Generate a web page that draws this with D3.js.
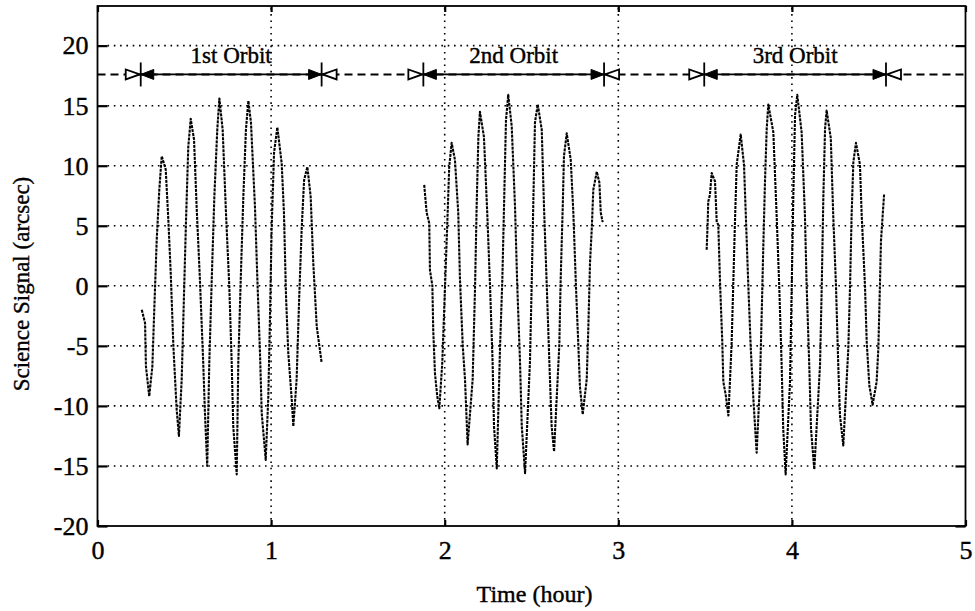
<!DOCTYPE html>
<html>
<head>
<meta charset="utf-8">
<script src="https://cdn.jsdelivr.net/npm/d3@7"></script>
<style>
  body { margin: 0; background: #fff; }
  svg { display: block; }
  text { font-family: "Liberation Serif", "Times New Roman", serif; fill: #000; stroke: #000; stroke-width: 0.4px; }
</style>
</head>
<body>
<svg class="chart"></svg>
<script>
// axis ticks
const xTicks = [0, 1, 2, 3, 4, 5];
const yTicks = [-20, -15, -10, -5, 0, 5, 10, 15, 20];

// orbit brackets (hours) and the level they are drawn at (arcsec)
const orbitNames = ["1st Orbit", "2nd Orbit", "3rd Orbit"];
const orbitStart = [0.249, 1.877, 3.495];
const orbitEnd = [1.291, 2.918, 4.542];
const orbitMarkY = 17.6;

// science signal: [time (hour), signal (arcsec)]
const orbit1 = [
  [0.255, -2.0], [0.274, -3.1], [0.279, -6.7], [0.298, -9.2], [0.316, -6.7],
  [0.327, -2.0], [0.341, 3.8], [0.356, 8.0], [0.370, 10.8], [0.393, 9.7],
  [0.408, 5.5], [0.422, 1.0], [0.437, -5.0], [0.456, -10.3], [0.469, -12.5],
  [0.485, -7.8], [0.498, -0.9], [0.510, 5.5], [0.523, 11.6], [0.537, 13.9],
  [0.556, 12.2], [0.571, 6.6], [0.590, 0.5], [0.609, -6.4], [0.619, -10.6],
  [0.632, -15.0], [0.644, -6.4], [0.658, 0.5], [0.673, 7.4], [0.690, 13.0],
  [0.702, 15.6], [0.721, 13.0], [0.740, 6.1], [0.759, 0.0], [0.773, -6.4],
  [0.782, -11.7], [0.802, -15.7], [0.811, -6.4], [0.825, 0.5], [0.840, 7.4],
  [0.855, 13.0], [0.869, 15.4], [0.884, 13.6], [0.907, 6.6], [0.921, 0.5],
  [0.936, -5.6], [0.946, -10.6], [0.969, -14.5], [0.984, -9.2], [0.994, -2.3],
  [1.003, 4.7], [1.017, 11.1], [1.036, 13.2], [1.061, 10.2], [1.074, 6.1],
  [1.086, -0.9], [1.099, -5.6], [1.119, -9.5], [1.128, -11.7], [1.147, -7.8],
  [1.162, -0.9], [1.176, 4.7], [1.190, 8.8], [1.209, 9.9], [1.228, 7.4],
  [1.243, 1.9], [1.263, -3.4], [1.278, -5.0], [1.291, -6.4]
];

const orbit2 = [
  [1.882, 8.4], [1.896, 6.1], [1.911, 5.2], [1.915, 1.3], [1.929, 0.0],
  [1.934, -3.7], [1.944, -7.3], [1.957, -9.2], [1.969, -10.2], [1.986, -6.4],
  [2.002, 0.0], [2.015, 5.2], [2.026, 9.9], [2.040, 11.9], [2.059, 10.5],
  [2.078, 6.1], [2.088, 0.5], [2.104, -5.0], [2.117, -7.8], [2.132, -13.2],
  [2.161, -7.8], [2.175, 0.0], [2.184, 6.6], [2.194, 12.4], [2.203, 14.5],
  [2.226, 12.4], [2.245, 6.1], [2.261, 0.0], [2.276, -6.4], [2.284, -11.7],
  [2.300, -15.2], [2.319, -5.0], [2.332, 0.5], [2.343, 7.4], [2.353, 13.8],
  [2.366, 15.9], [2.386, 13.3], [2.405, 6.6], [2.418, 0.0], [2.434, -6.4],
  [2.444, -11.7], [2.463, -15.6], [2.491, -6.4], [2.501, 0.0], [2.510, 6.6],
  [2.520, 13.6], [2.536, 15.1], [2.559, 13.0], [2.572, 6.6], [2.588, 0.0],
  [2.603, -6.4], [2.616, -11.7], [2.630, -13.8], [2.660, -5.0], [2.668, 0.5],
  [2.680, 6.6], [2.687, 10.8], [2.703, 12.7], [2.726, 10.5], [2.741, 6.1],
  [2.756, 0.0], [2.770, -5.0], [2.779, -8.4], [2.795, -10.7], [2.818, -7.8],
  [2.827, -3.7], [2.837, 1.9], [2.847, 4.7], [2.856, 8.0], [2.876, 9.5],
  [2.891, 8.6], [2.899, 6.1], [2.910, 5.3]
];

const orbit3 = [
  [3.509, 3.0], [3.515, 5.3], [3.518, 7.0], [3.528, 7.6], [3.538, 9.4],
  [3.557, 8.7], [3.567, 5.3], [3.576, 5.1], [3.586, 0.3], [3.599, -4.7],
  [3.605, -8.0], [3.619, -9.1], [3.634, -10.8], [3.643, -8.0], [3.653, -4.7],
  [3.662, 0.0], [3.672, 5.3], [3.682, 10.1], [3.705, 12.6], [3.724, 10.1],
  [3.736, 5.3], [3.749, 0.0], [3.763, -5.2], [3.778, -9.4], [3.797, -13.9],
  [3.816, -8.0], [3.826, -2.4], [3.835, 3.1], [3.845, 8.7], [3.855, 13.1],
  [3.864, 15.1], [3.893, 12.8], [3.912, 5.9], [3.927, 0.0], [3.941, -6.6],
  [3.950, -11.9], [3.964, -15.7], [3.989, -8.0], [3.999, 0.0], [4.008, 7.3],
  [4.018, 14.2], [4.031, 15.9], [4.056, 12.8], [4.075, 5.9], [4.085, 0.0],
  [4.100, -6.6], [4.110, -11.9], [4.129, -15.3], [4.162, -6.6], [4.172, 0.0],
  [4.181, 7.3], [4.191, 13.1], [4.200, 14.6], [4.224, 12.3], [4.238, 5.9],
  [4.254, 0.0], [4.267, -6.6], [4.277, -10.8], [4.296, -13.3], [4.325, -5.2],
  [4.335, 0.0], [4.344, 5.9], [4.354, 10.3], [4.369, 11.9], [4.392, 10.1],
  [4.402, 5.9], [4.421, 0.0], [4.431, -4.7], [4.446, -8.3], [4.465, -9.9],
  [4.488, -8.0], [4.498, -5.2], [4.507, 0.0], [4.513, 3.7], [4.523, 5.9],
  [4.531, 7.6]
];

const width = 975, height = 611;
const svg = d3.select(".chart").attr("width", width).attr("height", height);

const x = d3.scaleLinear().domain([0, 5]).range([97.5, 965.5]);
const y = d3.scaleLinear().domain([-20, 23.3]).range([526, 6]);
const [x0, x1] = x.range();
const [y0, y1] = y.range();

// dotted grid
const grid = svg.append("g")
  .attr("stroke", "#000")
  .attr("stroke-width", 1.6)
  .attr("stroke-dasharray", "1.6,4.7");
grid.selectAll(".gy")
  .data(yTicks.filter((d) => d > -20))
  .join("line")
  .attr("x1", x0 + 10).attr("x2", x1 - 10)
  .attr("y1", (d) => y(d)).attr("y2", (d) => y(d));
grid.selectAll(".gx")
  .data(xTicks.filter((d) => d > 0 && d < 5))
  .join("line")
  .attr("x1", (d) => x(d)).attr("x2", (d) => x(d))
  .attr("y1", y0).attr("y2", y1);

// signal
const line = d3.line()
  .x((d) => x(d[0]))
  .y((d) => y(d[1]));

svg.append("g")
  .selectAll("path")
  .data([orbit1, orbit2, orbit3])
  .join("path")
  .attr("d", line)
  .attr("fill", "none")
  .attr("stroke", "#000")
  .attr("stroke-width", 2.1)
  .attr("stroke-linejoin", "round")
  .attr("stroke-dasharray", "3,1");

// frame
svg.append("rect")
  .attr("x", x0).attr("y", y1)
  .attr("width", x1 - x0).attr("height", y0 - y1)
  .attr("fill", "none")
  .attr("stroke", "#000")
  .attr("stroke-width", 1.8);

// axes
const fmt = (d) => String(d);
const styleAxis = (g) => {
  g.select(".domain").remove();
  g.selectAll(".tick line").attr("stroke-width", 2.2);
  g.selectAll(".tick text").attr("font-size", 26);
};

svg.append("g")
  .attr("transform", `translate(${x0},0)`)
  .call(d3.axisLeft(y).tickValues(yTicks).tickSize(-10).tickPadding(9).tickFormat(fmt))
  .call(styleAxis);

svg.append("g")
  .attr("transform", `translate(${x1},0)`)
  .call(d3.axisRight(y).tickValues(yTicks).tickSize(-10).tickFormat(""))
  .call(styleAxis);

svg.append("g")
  .attr("transform", `translate(0,${y0})`)
  .call(d3.axisBottom(x).tickValues(xTicks).tickSize(-6).tickPadding(15).tickFormat(fmt))
  .call(styleAxis);

svg.append("g")
  .attr("transform", `translate(0,${y1})`)
  .call(d3.axisTop(x).tickValues(xTicks).tickSize(-6).tickFormat(""))
  .call(styleAxis);

// orbit brackets
const ym = y(orbitMarkY);
const marks = svg.append("g").attr("stroke", "#000");

marks.append("line")
  .attr("x1", x0).attr("x2", x1)
  .attr("y1", ym).attr("y2", ym)
  .attr("stroke-width", 2)
  .attr("stroke-dasharray", "8,5");

const orbits = orbitNames.map((name, i) => ({ name, s: orbitStart[i], e: orbitEnd[i] }));

const og = marks.selectAll(".orbit")
  .data(orbits)
  .join("g");

og.append("line")
  .attr("x1", (d) => x(d.s)).attr("x2", (d) => x(d.e))
  .attr("y1", ym).attr("y2", ym)
  .attr("stroke-width", 1.8);

// filled arrowheads inside the orbit span
og.append("path")
  .attr("d", (d) => `M${x(d.s)},${ym}L${x(d.s) + 13},${ym - 5}L${x(d.s) + 13},${ym + 5}Z`)
  .attr("fill", "#000");
og.append("path")
  .attr("d", (d) => `M${x(d.e)},${ym}L${x(d.e) - 13},${ym - 5}L${x(d.e) - 13},${ym + 5}Z`)
  .attr("fill", "#000");

// open arrowheads outside the span
og.append("path")
  .attr("d", (d) => `M${x(d.s) - 1},${ym}L${x(d.s) - 15},${ym - 5}L${x(d.s) - 15},${ym + 5}Z`)
  .attr("fill", "#fff")
  .attr("stroke-width", 1.8);
og.append("path")
  .attr("d", (d) => `M${x(d.e) + 1},${ym}L${x(d.e) + 15},${ym - 5}L${x(d.e) + 15},${ym + 5}Z`)
  .attr("fill", "#fff")
  .attr("stroke-width", 1.8);

// end bars
og.selectAll(".bar")
  .data((d) => [d.s, d.e])
  .join("line")
  .attr("x1", (t) => x(t)).attr("x2", (t) => x(t))
  .attr("y1", ym - 12).attr("y2", ym + 12)
  .attr("stroke-width", 1.8);

svg.append("g")
  .selectAll("text")
  .data(orbits)
  .join("text")
  .attr("x", (d) => x((d.s + d.e) / 2))
  .attr("y", ym - 11)
  .attr("text-anchor", "middle")
  .attr("font-size", 23)
  .text((d) => d.name);

// axis titles
svg.append("text")
  .attr("transform", `translate(28.5,${(y0 + y1) / 2 + 18}) rotate(-90)`)
  .attr("text-anchor", "middle")
  .attr("font-size", 23)
  .text("Science Signal (arcsec)");

svg.append("text")
  .attr("x", 534.5)
  .attr("y", 601.5)
  .attr("text-anchor", "middle")
  .attr("font-size", 24)
  .text("Time (hour)");
</script>
</body>
</html>
